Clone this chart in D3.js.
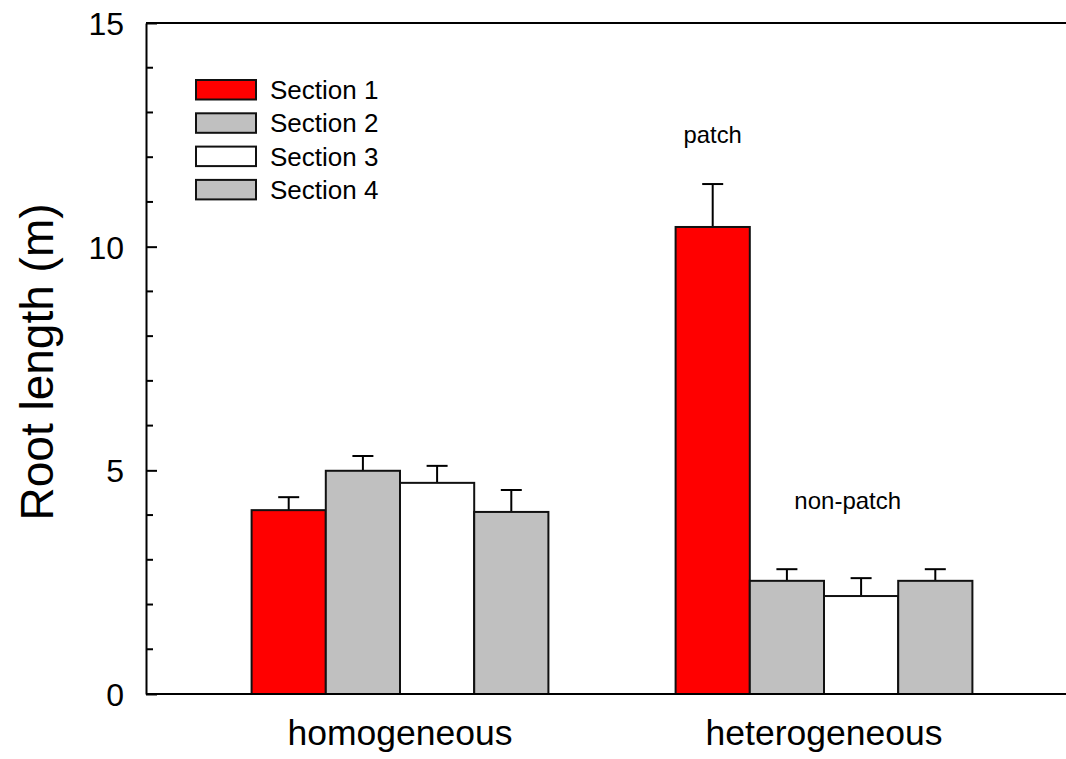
<!DOCTYPE html>
<html>
<head>
<meta charset="utf-8">
<script src="https://cdn.jsdelivr.net/npm/d3@7"></script>
<style>
  body { margin: 0; background: #fff; }
  text { font-family: "Liberation Sans", Arial, sans-serif; fill: #000; }
</style>
</head>
<body>
<div id="chart"></div>
<script>
"use strict";

// Size of SVG
const w = 1066;
const h = 759;

// Data
const groups = ["homogeneous", "heterogeneous"];
const sections = ["Section 1", "Section 2", "Section 3", "Section 4"];
const sectionColors = ["#ff0000", "#c0c0c0", "#ffffff", "#c0c0c0"];
const homogeneousMean = [4.11, 4.99, 4.72, 4.07];
const homogeneousErr = [0.29, 0.33, 0.38, 0.49];
const heterogeneousMean = [10.44, 2.53, 2.19, 2.53];
const heterogeneousErr = [0.96, 0.26, 0.40, 0.26];
const yTicks = [0, 5, 10, 15];
const yMinorTicks = [1, 2, 3, 4, 6, 7, 8, 9, 11, 12, 13, 14];

const rows = [];
groups.forEach((g, gi) => {
	const means = gi === 0 ? homogeneousMean : heterogeneousMean;
	const errs = gi === 0 ? homogeneousErr : heterogeneousErr;
	sections.forEach((s, si) => {
		rows.push({ group: g, section: s, mean: means[si], err: errs[si], color: sectionColors[si] });
	});
});

// Plot area
const plotLeft = 146, plotRight = 1066, plotTop = 23, plotBottom = 694;

const svg = d3.select("#chart")
	.append("svg")
	.attr("width", w)
	.attr("height", h);

const y = d3.scaleLinear().domain([0, 15]).range([plotBottom, plotTop]);

const x0 = d3.scaleBand()
	.domain(groups)
	.range([188, 1036])
	.paddingInner(0.3)
	.paddingOuter(0.15);

const x1 = d3.scaleBand()
	.domain(sections)
	.range([0, x0.bandwidth()])
	.padding(0);

// Top frame line
svg.append("line")
	.attr("x1", plotLeft).attr("x2", plotRight)
	.attr("y1", plotTop).attr("y2", plotTop)
	.attr("stroke", "#000").attr("stroke-width", 2);

// Y axis, major ticks point inward
const yAxis = svg.append("g")
	.attr("transform", `translate(${plotLeft},0)`)
	.call(d3.axisLeft(y).tickValues(yTicks).tickSizeInner(-11).tickSizeOuter(0).tickPadding(22).tickFormat(d3.format("d")));
yAxis.select(".domain").attr("stroke-width", 2);
yAxis.selectAll(".tick line").attr("stroke-width", 2);
yAxis.selectAll("text")
	.style("font-size", "32px")
	.style("font-family", "Liberation Sans, Arial, sans-serif")
	.attr("dy", "0.36em");

// Minor ticks (inward)
svg.append("g")
	.selectAll("line")
	.data(yMinorTicks)
	.join("line")
	.attr("x1", plotLeft).attr("x2", plotLeft + 7)
	.attr("y1", d => y(d)).attr("y2", d => y(d))
	.attr("stroke", "#000").attr("stroke-width", 2);

// Bars
const bars = svg.append("g")
	.selectAll("g")
	.data(rows)
	.join("g")
	.attr("transform", d => `translate(${x0(d.group) + x1(d.section)},0)`);

// Error bars (drawn before the bar so the bar edge covers the stem)
bars.append("line")
	.attr("x1", x1.bandwidth() / 2).attr("x2", x1.bandwidth() / 2)
	.attr("y1", d => y(d.mean)).attr("y2", d => y(d.mean + d.err))
	.attr("stroke", "#000").attr("stroke-width", 2);
bars.append("line")
	.attr("x1", x1.bandwidth() / 2 - 10.5).attr("x2", x1.bandwidth() / 2 + 10.5)
	.attr("y1", d => y(d.mean + d.err)).attr("y2", d => y(d.mean + d.err))
	.attr("stroke", "#000").attr("stroke-width", 2);

bars.append("rect")
	.attr("x", 0)
	.attr("y", d => y(d.mean))
	.attr("width", x1.bandwidth())
	.attr("height", d => plotBottom - y(d.mean))
	.attr("fill", d => d.color)
	.attr("stroke", "#111")
	.attr("stroke-width", 2);

// Bottom axis line drawn over bars
svg.append("line")
	.attr("x1", plotLeft).attr("x2", plotRight)
	.attr("y1", plotBottom).attr("y2", plotBottom)
	.attr("stroke", "#000").attr("stroke-width", 2);

// X labels
svg.append("g")
	.selectAll("text")
	.data(groups)
	.join("text")
	.attr("x", d => x0(d) + x0.bandwidth() / 2)
	.attr("y", 745)
	.attr("text-anchor", "middle")
	.style("font-size", "35.5px")
	.text(d => d);

// Y title
svg.append("text")
	.attr("transform", "translate(53,362) rotate(-90)")
	.attr("text-anchor", "middle")
	.style("font-size", "46px")
	.text("Root length (m)");

// Legend
const legend = svg.append("g")
	.selectAll("g")
	.data(sections)
	.join("g")
	.attr("transform", (d, i) => `translate(196,${80 + i * 33.3})`);
legend.append("rect")
	.attr("width", 60).attr("height", 19.5)
	.attr("fill", (d, i) => sectionColors[i])
	.attr("stroke", "#111").attr("stroke-width", 2);
legend.append("text")
	.attr("x", 74).attr("y", 19)
	.style("font-size", "26px")
	.text(d => d);

// Annotations
svg.append("text")
	.attr("x", x0("heterogeneous") + x1("Section 1") + x1.bandwidth() / 2)
	.attr("y", 143)
	.attr("text-anchor", "middle")
	.style("font-size", "23.8px")
	.text("patch");
svg.append("text")
	.attr("x", x0("heterogeneous") + x1("Section 3") + x1.bandwidth() * 0.32)
	.attr("y", 509)
	.attr("text-anchor", "middle")
	.style("font-size", "24px")
	.text("non-patch");
</script>
</body>
</html>
